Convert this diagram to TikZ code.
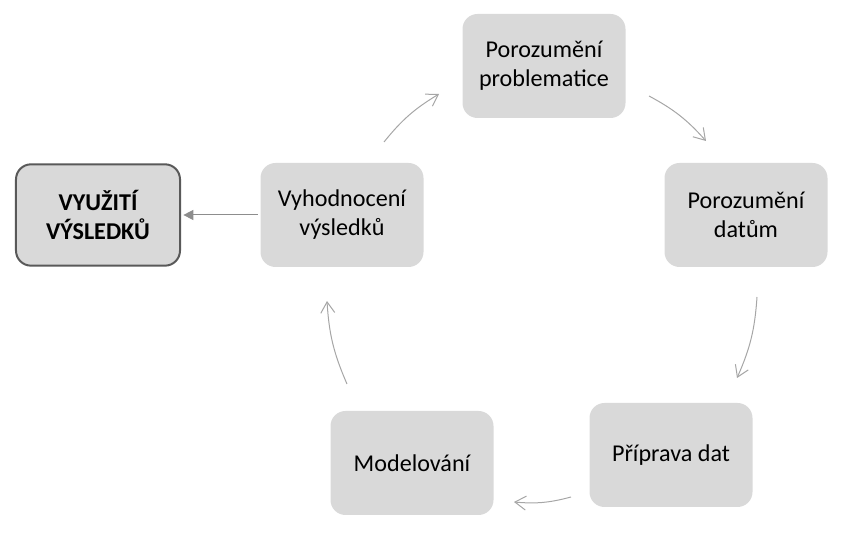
\documentclass[tikz,border=0pt]{standalone}
\usepackage{fontspec}
\setmainfont{Carlito}
\usepackage{tikz}
\usetikzlibrary{arrows.meta}
\definecolor{boxgray}{HTML}{D9D9D9}
\definecolor{rimgray}{HTML}{595959}
\definecolor{arrgray}{HTML}{A6A6A6}

\begin{document}
\begin{tikzpicture}[
  x=0.3mm, y=0.3mm,
  font=\fontsize{20.6pt}{24.7pt}\selectfont,
  n/.style={fill=boxgray, rounded corners=4.5mm, align=center, inner sep=2pt,
            minimum width=48.9mm, minimum height=31.2mm},
  res/.style={n, draw=rimgray, line width=0.6mm, minimum width=49.2mm,
              minimum height=30.4mm, font=\fontsize{20.6pt}{24.7pt}\selectfont\bfseries},
  e/.style={-{Straight Barb[length=3.3mm, width=4.2mm]}, line width=0.3mm, arrgray},
  f/.style={-{Triangle[length=3mm, width=3mm]}, line width=0.3mm, arrgray!85!black}]

\useasboundingbox (0,0) rectangle (851,543);

% the cycle, corners of a pentagon round (543,260)
\node[n] (prob) at (544,477) {Porozumění\\problematice};
\node[n] (dat)  at (746,328) {Porozumění\\datům};
\node[n] (prip) at (671,88)  {Příprava dat};
\node[n] (mod)  at (412,80)  {Modelování};
\node[n] (vyh)  at (342,328) {Vyhodnocení\\výsledků};

\node[res] (vyu) at (98,328) {VYUŽITÍ\\VÝSLEDKŮ};

% ends of the short arcs between the boxes
\coordinate (vp1) at (384,401); \coordinate (vp2) at (439,449);
\coordinate (pd1) at (649,447); \coordinate (pd2) at (706,402);
\coordinate (dp1) at (757,246); \coordinate (dp2) at (737,165);
\coordinate (pm1) at (571,46);  \coordinate (pm2) at (514,41);
\coordinate (mv1) at (347,159); \coordinate (mv2) at (327,242);

\draw[e] (vp1) to[bend left=10] (vp2);
\draw[e] (pd1) to[bend left=10] (pd2);
\draw[e] (dp1) to[bend left=10] (dp2);
\draw[e] (pm1) to[bend left=10] (pm2);
\draw[e] (mv1) to[bend left=10] (mv2);

\draw[f, shorten <=2pt, shorten >=2pt] (vyh.west) -- (vyu.east);

\end{tikzpicture}
\end{document}
